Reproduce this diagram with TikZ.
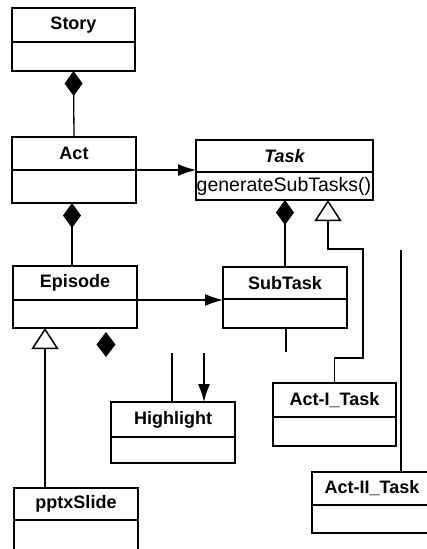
\documentclass[tikz,border=0pt]{standalone}
\usepackage{fontspec}
\setmainfont{Liberation Sans}
\usetikzlibrary{arrows.meta}

\tikzset{
  classhead/.style={draw, line width=2pt, inner sep=0pt, outer sep=0pt,
    font=\fontsize{18}{18}\selectfont\bfseries},
  classbody/.style={draw, line width=2pt, inner sep=0pt, outer sep=0pt},
  link/.style={line width=1.3pt},
  comp/.style={link, -{Diamond[length=25pt,width=18pt]}},
  gen/.style={link, -{Triangle[open, fill=white, length=21pt, width=27pt, line width=1.5pt]}},
  assoc/.style={link, -{Latex[length=18pt,width=12pt]}},
}

% class box: name, x1, y1, x2, y of divider, y2, title
\newcommand\umlclass[7]{%
  \node[classhead, minimum width={#4-#2}, minimum height={#5-#3}, anchor=north west]
    (#1T) at (#2,#3) {#7};
  \node[classbody, minimum width={#4-#2}, minimum height={#6-#5}, anchor=north west]
    (#1B) at (#1T.south west) {};
}

\begin{document}
\begin{tikzpicture}[x=1pt, y=-1pt]
  \useasboundingbox (0,0) rectangle (426,549);

  % classes
  \umlclass{story}{12}{8}{135}{42}{71}{Story}
  \umlclass{act}{12}{137}{136}{170}{203}{Act}
  \umlclass{task}{196}{140}{373}{172}{200}{\itshape Task}
  \umlclass{sub}{223}{267}{347}{299}{328}{SubTask}
  \umlclass{ep}{13}{266}{137}{300}{328}{Episode}
  \umlclass{hl}{111}{402}{235}{437}{463}{Highlight}
  \umlclass{acti}{273}{383}{396}{417}{446}{Act-I\_Task}
  \umlclass{actii}{312}{472}{432}{505}{533}{Act-II\_Task}
  \umlclass{ppt}{14}{488}{138}{520}{556}{pptxSlide}

  \node[anchor=west, inner sep=0.5pt, font=\fontsize{19.5}{20}\selectfont]
    (meth) at (taskB.west) {generateSubTasks()};

  % compositions
  \draw[comp] (actT.north) -- (storyB.south);
  \coordinate (epIn) at (72,0);
  \draw[comp] (epIn |- epT.north) -- (epIn |- actB.south);
  \draw[comp] (subT.north) -- (subT.north |- taskB.south);
  \fill (106,332) -- (115.5,344.5) -- (106,357) -- (96.5,344.5) -- cycle;

  % associations
  \draw[assoc] (actT.south east) -- (actT.south east -| taskT.west);
  \draw[assoc] (epT.south east) -- (epT.south east -| subT.west);

  % generalisations
  \coordinate (g1) at (363,358);
  \coordinate (g2) at (328,249);
  \draw[gen] (actiT.north) |- (g1) |- (g2) -- (g2 |- taskB.south);
  \coordinate (g3) at (45,0);
  \draw[gen] (g3 |- pptT.north) -- (g3 |- epB.south);

  % loose connector ends
  \coordinate (d1) at (401,250);
  \draw[link] (d1) -- (d1 |- actiiT.north);
  \coordinate (d2) at (286,352);
  \draw[link] (d2 |- subB.south) -- (d2);
  \coordinate (d3) at (172,353);
  \draw[link] (d3) -- (d3 |- hlT.north);
  \coordinate (d4) at (204,353);
  \draw[link, -{Latex[length=18pt,width=12pt]}] (d4) -- (d4 |- hlT.north);
\end{tikzpicture}
\end{document}
